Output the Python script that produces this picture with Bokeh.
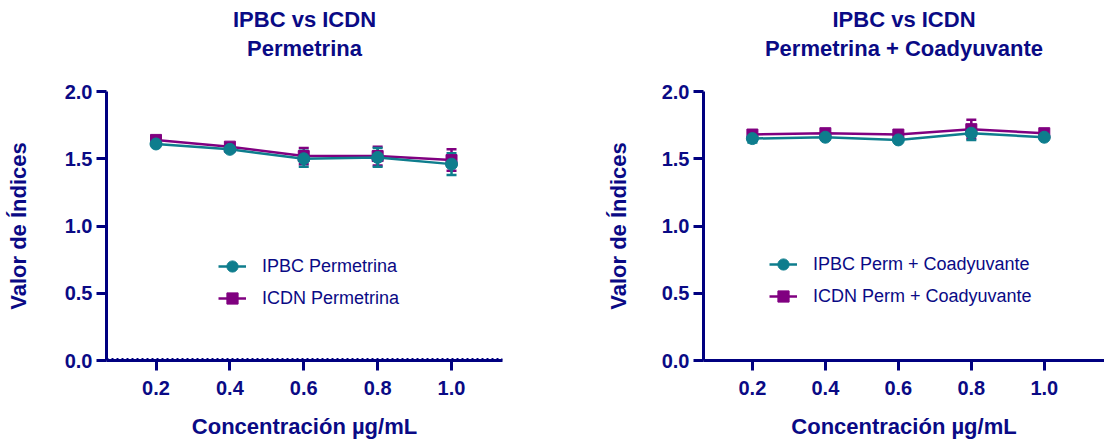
from bokeh.plotting import figure
from bokeh.layouts import row
from bokeh.models import ColumnDataSource, Whisker, Legend, LegendItem, Title, Span, FixedTicker
from bokeh.embed import file_html
from bokeh.resources import INLINE

# ---- data ----
conc = [0.2, 0.4, 0.6, 0.8, 1.0]
x_ticks = [0.2, 0.4, 0.6, 0.8, 1.0]
y_ticks = [0.0, 0.5, 1.0, 1.5, 2.0]

ipbc_perm = [1.61, 1.57, 1.50, 1.51, 1.46]
ipbc_perm_err = [0.01, 0.02, 0.06, 0.07, 0.08]
icdn_perm = [1.64, 1.59, 1.52, 1.52, 1.49]
icdn_perm_err = [0.02, 0.02, 0.06, 0.07, 0.08]

ipbc_coad = [1.65, 1.66, 1.64, 1.69, 1.66]
ipbc_coad_err = [0.03, 0.01, 0.01, 0.05, 0.01]
icdn_coad = [1.68, 1.69, 1.68, 1.72, 1.69]
icdn_coad_err = [0.03, 0.01, 0.01, 0.07, 0.02]

TEAL = "#0E7D8D"
PURPLE = "#800080"
NAVY = "#0A0A85"
AXIS = "#000080"
FONT = "Liberation Sans"


def make_fig(title2, s1, e1, s2, e2, lab1, lab2, border_left, border_right,
             border_top, border_bottom, x_end, ylab_standoff, legend_loc, dotted):
    p = figure(width=552, height=442, output_backend="svg", toolbar_location=None,
               x_range=(0.066, x_end), y_range=(0, 2.0),
               min_border_left=border_left, min_border_right=border_right,
               min_border_top=border_top, min_border_bottom=border_bottom)
    p.outline_line_color = None
    p.grid.visible = False
    p.background_fill_color = "white"

    for ax in (p.xaxis[0], p.yaxis[0]):
        ax.axis_line_color = AXIS
        ax.axis_line_width = 3
        ax.major_tick_line_color = AXIS
        ax.major_tick_line_width = 3
        ax.major_tick_out = 10
        ax.major_tick_in = 0
        ax.minor_tick_line_color = None
        ax.major_label_text_font = FONT
        ax.major_label_text_font_style = "bold"
        ax.major_label_text_font_size = "20px"
        ax.major_label_text_color = NAVY
        ax.axis_label_text_font = FONT
        ax.axis_label_text_font_style = "bold"
        ax.axis_label_text_font_size = "22px"
        ax.axis_label_text_color = NAVY

    p.xaxis.ticker = FixedTicker(ticks=x_ticks)
    p.yaxis.ticker = FixedTicker(ticks=y_ticks)
    p.xaxis.major_label_overrides = {t: f"{t:.1f}" for t in x_ticks}
    p.yaxis.major_label_overrides = {t: f"{t:.1f}" for t in y_ticks}
    p.xaxis.axis_label = "Concentración µg/mL"
    p.yaxis.axis_label = "Valor de Índices"
    p.xaxis.major_label_standoff = 10
    p.xaxis.axis_label_standoff = 16
    p.yaxis.major_label_standoff = 4
    p.yaxis.axis_label_standoff = ylab_standoff

    src2 = ColumnDataSource(dict(x=conc, y=s2, lo=[a - b for a, b in zip(s2, e2)],
                                 hi=[a + b for a, b in zip(s2, e2)]))
    src1 = ColumnDataSource(dict(x=conc, y=s1, lo=[a - b for a, b in zip(s1, e1)],
                                 hi=[a + b for a, b in zip(s1, e1)]))

    p.add_layout(Whisker(source=src2, base="x", lower="lo", upper="hi",
                         line_color=PURPLE, line_width=2.5))
    l2 = p.line("x", "y", source=src2, line_color=PURPLE, line_width=2.5)
    m2 = p.scatter("x", "y", source=src2, marker="square", size=11,
                   fill_color=PURPLE, line_color=PURPLE)

    p.add_layout(Whisker(source=src1, base="x", lower="lo", upper="hi",
                         line_color=TEAL, line_width=2.5))
    l1 = p.line("x", "y", source=src1, line_color=TEAL, line_width=2.5)
    m1 = p.scatter("x", "y", source=src1, marker="circle", size=12,
                   fill_color=TEAL, line_color=TEAL)

    for w in p.select(type=Whisker):
        w.upper_head.size = 10
        w.lower_head.size = 10
        w.upper_head.line_width = 2.5
        w.lower_head.line_width = 2.5
        w.upper_head.line_color = w.line_color
        w.lower_head.line_color = w.line_color

    if dotted:
        p.add_layout(Span(location=0, dimension="width", line_color=AXIS,
                          line_width=5, line_dash="2 3", level="overlay"))

    legend = Legend(items=[LegendItem(label=lab1, renderers=[l1, m1]),
                           LegendItem(label=lab2, renderers=[l2, m2])],
                    location=legend_loc, border_line_color=None,
                    background_fill_alpha=0, padding=0, margin=0, spacing=0,
                    glyph_width=28, glyph_height=32, label_height=32,
                    label_standoff=16, label_text_font=FONT,
                    label_text_font_size="18px", label_text_color=NAVY)
    p.add_layout(legend, "center")

    # spacer, then the two title lines
    p.add_layout(Title(text=" ", text_font_size="24px", standoff=0), "above")
    p.add_layout(Title(text=title2, align="center", text_font=FONT,
                       text_font_style="bold", text_font_size="22px",
                       text_color=NAVY, standoff=4), "above")
    p.add_layout(Title(text="IPBC vs ICDN", align="center", text_font=FONT,
                       text_font_style="bold", text_font_size="22px",
                       text_color=NAVY, standoff=0), "above")
    return p


p1 = make_fig("Permetrina", ipbc_perm, ipbc_perm_err, icdn_perm, icdn_perm_err,
              "IPBC Permetrina", "ICDN Permetrina", 106, 50, 88, 82, 1.138, 31,
              (112, 46), True)
p2 = make_fig("Permetrina + Coadyuvante", ipbc_coad, ipbc_coad_err, icdn_coad, icdn_coad_err,
              "IPBC Perm + Coadyuvante", "ICDN Perm + Coadyuvante", 151, 0, 91, 81, 1.165, 28,
              (66, 48), False)

layout = row(p1, p2)
open("out.html", "w").write(file_html(layout, INLINE))
